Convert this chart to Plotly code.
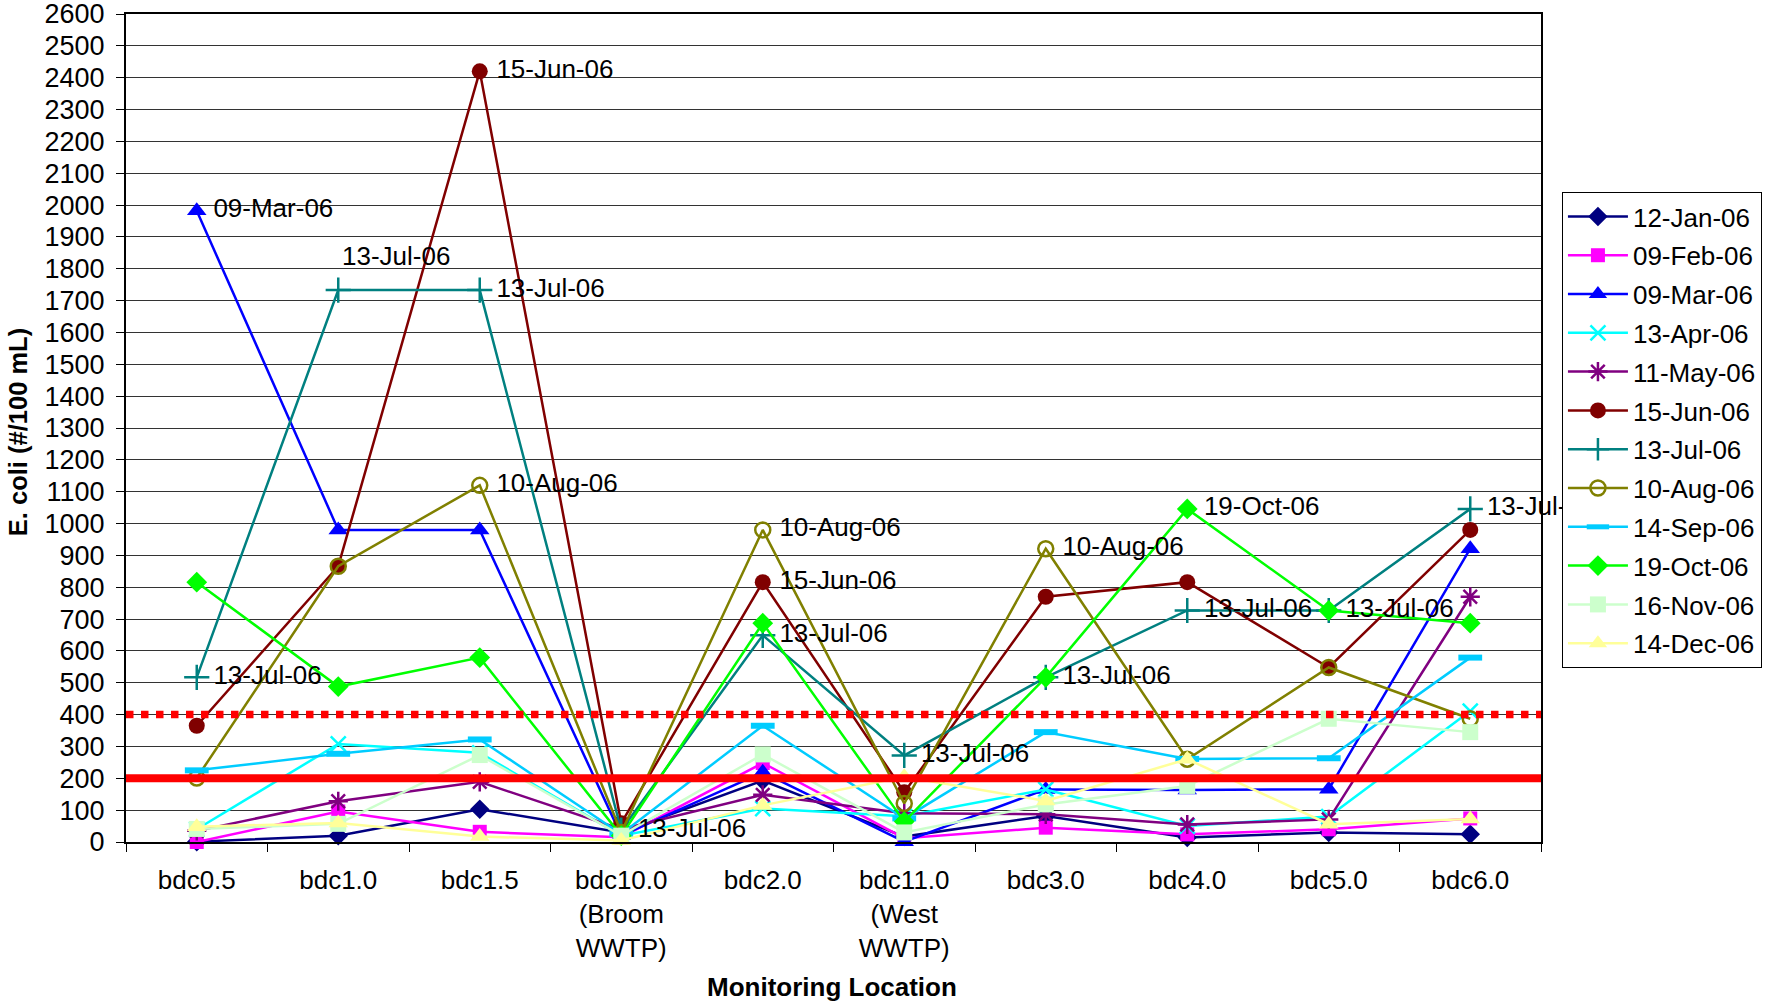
import plotly.graph_objects as go

# Monitoring locations along the creek (x categories)
locations = [
    "bdc0.5", "bdc1.0", "bdc1.5", "bdc10.0<br>(Broom<br>WWTP)", "bdc2.0",
    "bdc11.0<br>(West<br>WWTP)", "bdc3.0", "bdc4.0", "bdc5.0", "bdc6.0",
]

# E. coli counts (#/100 mL) per sampling date
jan12 = [1, 20, 103, 30, 193, 17, 82, 14, 30, 24]
feb09 = [0, 96, 32, 15, 248, 12, 45, 24, 40, 74]
mar09 = [1982, 980, 980, 20, 219, 1, 165, 163, 166, 921]
apr13 = [40, 308, 280, 20, 105, 81, 165, 50, 80, 411]
may11 = [35, 128, 189, 40, 148, 90, 87, 55, 71, 770]
jun15 = [365, 866, 2420, 59, 816, 156, 770, 816, 548, 980]
jul13 = [517, 1733, 1733, 37, 649, 272, 517, 727, 727, 1046]
aug10 = [201, 866, 1120, 30, 980, 121, 921, 260, 548, 387]
sep14 = [225, 277, 322, 25, 365, 74, 345, 261, 263, 579]
oct19 = [816, 488, 579, 20, 687, 64, 517, 1046, 727, 687]
nov16 = [41, 57, 273, 20, 275, 30, 118, 176, 387, 345]
dec14 = [48, 60, 17, 5, 115, 205, 129, 260, 56, 72]

dates = ["12-Jan-06", "09-Feb-06", "09-Mar-06", "13-Apr-06", "11-May-06", "15-Jun-06",
         "13-Jul-06", "10-Aug-06", "14-Sep-06", "19-Oct-06", "16-Nov-06", "14-Dec-06"]
series = [jan12, feb09, mar09, apr13, may11, jun15, jul13, aug10, sep14, oct19, nov16, dec14]

# Reference criteria lines
single_sample_limit = 400
geomean_limit = 200

# Points carrying a date label to their right: (series index, location index)
labelled_points = [
    (2, 0), (6, 0), (6, 2), (5, 2), (7, 2), (6, 3), (7, 4), (5, 4), (6, 4),
    (6, 5), (7, 6), (6, 6), (9, 7), (6, 7), (6, 8), (6, 9),
]
# Point whose date label sits above it
labelled_above = (6, 1)

styles = [
    dict(color="#000080", symbol="diamond", size=15, lw=0),
    dict(color="#FF00FF", symbol="square", size=14, lw=0),
    dict(color="#0000FF", symbol="triangle-up", size=17, lw=0),
    dict(color="#00FFFF", symbol="x-thin", size=15, lw=2.5),
    dict(color="#800080", symbol="asterisk", size=16, lw=2.5),
    dict(color="#800000", symbol="circle", size=16, lw=0),
    dict(color="#008080", symbol="cross-thin", size=18, lw=2.5),
    dict(color="#808000", symbol="circle-open", size=15, lw=2.5),
    dict(color="#00CCFF", symbol="line-ew", size=17, lw=6),
    dict(color="#00FF00", symbol="diamond", size=16, lw=0),
    dict(color="#CCFFCC", symbol="square", size=16, lw=0),
    dict(color="#FFFF99", symbol="triangle-up", size=17, lw=0),
]

FONT = "Liberation Sans, Arial, sans-serif"

fig = go.Figure()
for name, values, st in zip(dates, series, styles):
    fig.add_trace(go.Scatter(
        x=locations, y=values, name=name, mode="lines+markers",
        legendgroup=name, cliponaxis=False,
        line=dict(color=st["color"], width=2.5),
        marker=dict(symbol=st["symbol"], size=st["size"], color=st["color"],
                    line=dict(color=st["color"], width=st["lw"])),
    ))

# Date labels beside selected points (spacer markers are transparent)
fig.add_trace(go.Scatter(
    x=[locations[li] for si, li in labelled_points],
    y=[series[si][li] for si, li in labelled_points],
    text=[dates[si] for si, li in labelled_points],
    mode="markers+text", textposition="middle right",
    marker=dict(size=25, color="rgba(0,0,0,0)"),
    textfont=dict(family=FONT, size=26, color="black"),
    showlegend=False, hoverinfo="skip", cliponaxis=False,
))

# Criteria lines on top of the data
fig.add_shape(type="line", xref="paper", x0=0, x1=1, yref="y",
              y0=single_sample_limit, y1=single_sample_limit, layer="above",
              line=dict(color="#FF0000", width=7.5, dash="dot"))
fig.add_shape(type="line", xref="paper", x0=0, x1=1, yref="y",
              y0=geomean_limit, y1=geomean_limit, layer="above",
              line=dict(color="#FF0000", width=8))

si, li = labelled_above
annotations = [
    dict(x=locations[li], y=series[si][li], text=dates[si], showarrow=False,
         xanchor="left", yanchor="middle", xshift=2, yshift=34,
         font=dict(family=FONT, size=26, color="black")),
    dict(x=-0.0763, y=0.495, xref="paper", yref="paper",
         text="<b>E. coli (#/100 mL)</b>", textangle=-90, showarrow=False,
         xanchor="center", yanchor="middle",
         font=dict(family=FONT, size=25.5, color="black")),
    dict(x=0.499, y=-0.1751, xref="paper", yref="paper",
         text="<b>Monitoring Location</b>", showarrow=False,
         xanchor="center", yanchor="middle",
         font=dict(family=FONT, size=26, color="black")),
]

fig.update_layout(
    width=1775, height=1005,
    margin=dict(l=126, r=234, t=14, b=163, autoexpand=False),
    paper_bgcolor="white", plot_bgcolor="white",
    font=dict(family=FONT, size=26, color="black"),
    annotations=annotations,
    legend=dict(
        x=1.0148, y=0.785, xanchor="left", yanchor="top",
        bgcolor="white", bordercolor="black", borderwidth=1,
        font=dict(family=FONT, size=26, color="black"),
        tracegroupgap=2, itemwidth=60,
    ),
    xaxis=dict(
        type="category", range=[-0.5, 9.5], showgrid=False, automargin=False,
        showline=True, linecolor="black", linewidth=2, mirror=True,
        ticks="outside", ticklen=8, tickcolor="black", tickson="boundaries",
        ticklabelstandoff=14, tickfont=dict(family=FONT, size=26),
    ),
    yaxis=dict(
        range=[0, 2600], dtick=100, tick0=0, automargin=False,
        showgrid=True, gridcolor="#333333", gridwidth=1,
        showline=True, linecolor="black", linewidth=2, mirror=True,
        ticks="outside", ticklen=8, tickcolor="black",
        ticklabelstandoff=6, ticklabeloverflow="allow",
        tickfont=dict(family=FONT, size=27),
        zeroline=False,
    ),
)

fig.write_html("out.html")
